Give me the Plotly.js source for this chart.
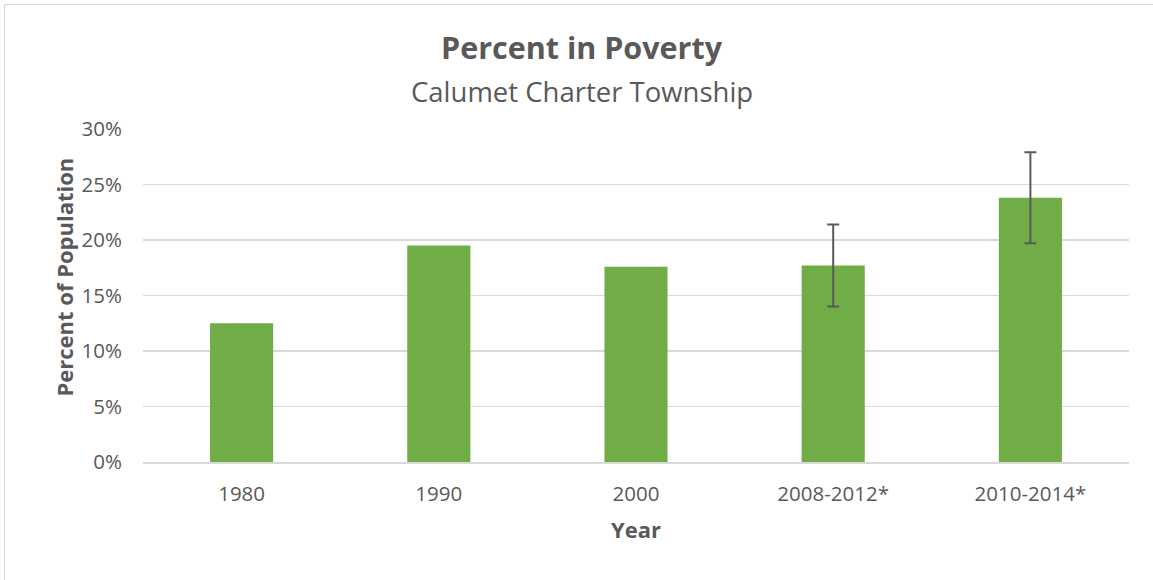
<!DOCTYPE html>
<html>
<head>
<meta charset="utf-8">
<script src="https://cdn.plot.ly/plotly-3.0.1.min.js"></script>
<style>
  html, body { margin: 0; padding: 0; background: #fff; }
  #frame { position: absolute; left: 4px; top: 4px; width: 1160px; height: 600px; border: 1.5px solid #d9d9d9; box-sizing: border-box; }
  #chart { position: absolute; left: 0; top: 0; width: 1153px; height: 580px; }
</style>
</head>
<body>
<div id="frame"></div>
<div id="chart"></div>
<script>
const categories = ["1980", "1990", "2000", "2008-2012*", "2010-2014*"];
const percentPoverty = [12.5, 19.5, 17.6, 17.7, 23.8];
const marginOfError = [null, null, null, 3.7, 4.1];
const yTickValues = [0, 5, 10, 15, 20, 25, 30];
const yTickLabels = ["0%", "5%", "10%", "15%", "20%", "25%", "30%"];

const font = "'Open Sans', sans-serif";

const trace = {
  type: "bar",
  x: categories,
  y: percentPoverty,
  marker: { color: "#70AD47" },
  error_y: {
    type: "data",
    array: marginOfError.map(v => v === null ? NaN : v),
    visible: true,
    color: "#595959",
    thickness: 2,
    width: 6
  },
  hoverinfo: "x+y"
};

const layout = {
  width: 1153,
  height: 580,
  margin: { l: 143, r: 24, t: 129, b: 118 },
  paper_bgcolor: "rgba(0,0,0,0)",
  plot_bgcolor: "rgba(0,0,0,0)",
  bargap: 0.68,
  showlegend: false,
  font: { family: font, color: "#595959", size: 20 },
  xaxis: {
    type: "category",
    tickfont: { family: font, size: 20.5, color: "#595959" },
    showgrid: false,
    showline: true,
    linecolor: "#d9d9d9",
    linewidth: 1.5,
    ticks: "outside",
    ticklen: 13,
    tickcolor: "rgba(0,0,0,0)",
    title: { text: "<b>Year</b>", font: { family: font, size: 22, color: "#595959" }, standoff: 16 }
  },
  yaxis: {
    range: [0, 30],
    tickvals: yTickValues,
    ticktext: yTickLabels,
    tickfont: { family: font, size: 20.5, color: "#595959" },
    showgrid: true,
    gridcolor: "#d9d9d9",
    gridwidth: 1.5,
    zeroline: false,
    showline: false,
    ticks: "",
    ticklabelstandoff: 20
  },
  annotations: [
    { text: "<b>Percent in Poverty</b>", xref: "paper", yref: "paper", x: 0.445, y: 1.245, xanchor: "center", yanchor: "middle", showarrow: false, font: { family: font, size: 30.5, color: "#595959" } },
    { text: "Calumet Charter Township", xref: "paper", yref: "paper", x: 0.445, y: 1.113, xanchor: "center", yanchor: "middle", showarrow: false, font: { family: font, size: 27.5, color: "#595959" } },
    { text: "<b>Percent of Population</b>", xref: "paper", yref: "paper", x: -0.0811, y: 0.554, xanchor: "center", yanchor: "middle", textangle: -90, showarrow: false, font: { family: font, size: 22, color: "#595959" } }
  ]
};

Plotly.newPlot("chart", [trace], layout, { displayModeBar: false, staticPlot: true });
</script>
</body>
</html>
